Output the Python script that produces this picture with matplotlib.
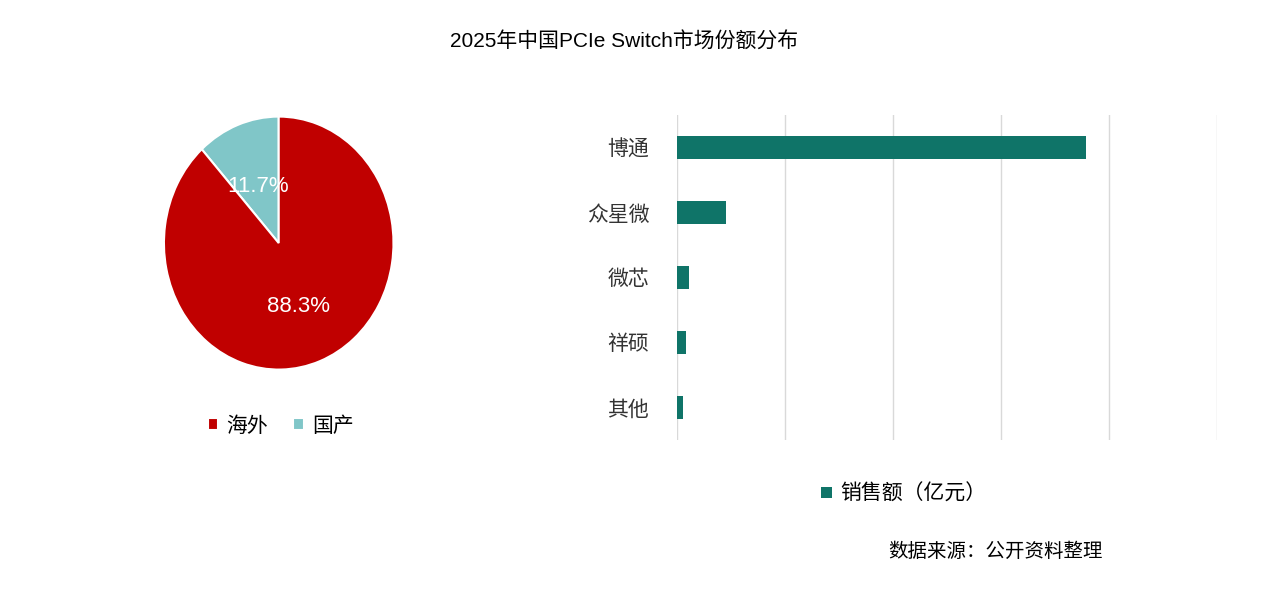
import matplotlib.pyplot as plt

plt.rcParams['font.family'] = ['Liberation Sans', 'Noto Sans CJK SC', 'DejaVu Sans']

pie_labels = ['国产', '海外']
pie_values = [11.7, 88.3]
pie_colors = ['#80C6C8', '#C00000']

companies = ['博通', '众星微', '微芯', '祥硕', '其他']
sales = [3.79, 0.45, 0.11, 0.08, 0.06]

fig = plt.figure(figsize=(12.64, 5.9), dpi=100)
fig.text(0.494, 0.93, '2025年中国PCIe Switch市场份额分布', ha='center', va='center', fontsize=15,
         fontweight='medium')

# pie
axp = fig.add_axes([0.107, 0.32, 0.227, 0.536])
wedges, _, autotexts = axp.pie(pie_values, colors=pie_colors, startangle=90, counterclock=True,
                               autopct='%.1f%%', pctdistance=0.5,
                               wedgeprops=dict(edgecolor='white', linewidth=1.5),
                               textprops=dict(color='white', fontsize=16))
autotexts[0].set_position((-0.18, 0.45))
autotexts[1].set_position((0.17, -0.5))
axp.set_aspect('auto')
fig.legend([wedges[1], wedges[0]], ['海外', '国产'], loc='center', bbox_to_anchor=(0.222, 0.278),
           ncol=2, frameon=False, fontsize=15, handlelength=0.5, handleheight=0.5,
           handletextpad=0.4, columnspacing=1.2)

# bars
axb = fig.add_axes([0.5356, 0.254, 0.4272, 0.551])
y = range(len(companies))
bars = axb.barh(y, sales, height=0.35, color='#0F7468')
axb.set_xlim(0, 5)
axb.set_ylim(4.5, -0.5)
axb.set_yticks(list(y))
axb.set_yticklabels(companies, fontsize=15, color='#333333')
axb.set_xticks(range(6))
axb.set_xticklabels([])
axb.tick_params(length=0, pad=20)
axb.grid(axis='x', color='#D9D9D9', linewidth=1)
axb.set_axisbelow(True)
for s in axb.spines.values():
    s.set_visible(False)
fig.legend([bars], ['销售额（亿元）'], loc='center', bbox_to_anchor=(0.715, 0.163), frameon=False,
           fontsize=15, handlelength=0.5, handleheight=0.5, handletextpad=0.4)

fig.text(0.703, 0.065, '数据来源：公开资料整理', ha='left', va='center', fontsize=14)

fig.savefig('out.png', dpi=100, facecolor='white')
